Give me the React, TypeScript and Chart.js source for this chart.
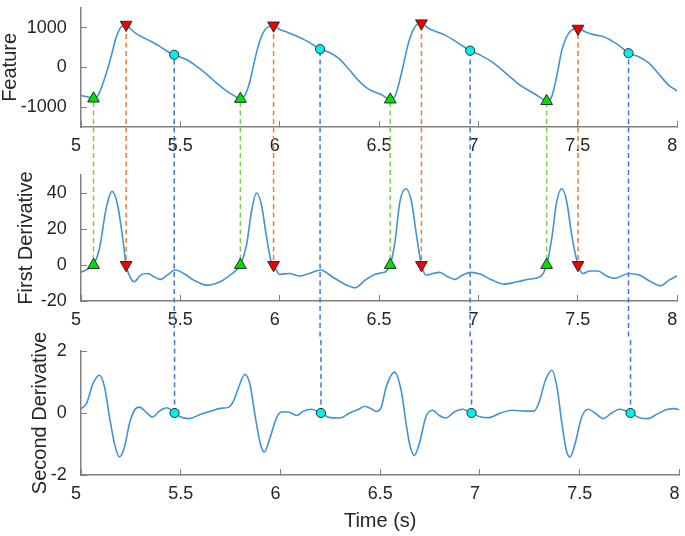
import React, { useEffect, useRef } from 'react';
import { Chart, registerables } from 'chart.js';

Chart.register(...registerables);

const FONT = "'Liberation Sans', Arial, Helvetica, sans-serif";
const TEXT = '#262626';
const AXIS = '#808080';
const CURVE = '#4393d3';

// ---------- x axis (shared) ----------
const xTicks = [5, 5.5, 6, 6.5, 7, 7.5, 8];
const xTickLabels = ['5  ', '5.5', '6  ', '6.5', '7  ', '7.5', '8  '];

// ---------- Feature ----------
const featureT = [
  5.0, 5.035, 5.063, 5.085, 5.118, 5.151, 5.176, 5.201, 5.227, 5.251, 5.276, 5.309, 5.351, 5.4, 5.442,
  5.469, 5.5, 5.542, 5.583, 5.633, 5.683, 5.733, 5.774, 5.802, 5.824, 5.849, 5.874, 5.899, 5.924, 5.949,
  5.969, 5.998, 6.04, 6.082, 6.123, 6.165, 6.203, 6.248, 6.298, 6.347, 6.397, 6.447, 6.513, 6.538, 6.556,
  6.583, 6.613, 6.646, 6.671, 6.696, 6.713, 6.746, 6.788, 6.829, 6.879, 6.92, 6.958, 7.012, 7.078, 7.145,
  7.211, 7.278, 7.319, 7.343, 7.369, 7.394, 7.419, 7.444, 7.469, 7.501, 7.544, 7.585, 7.627, 7.668, 7.71,
  7.755, 7.809, 7.859, 7.909, 7.958, 8.0,
];
const featureV = [
  -707, -745, -785, -707, -294, 262, 738, 1016, 1075, 960, 857, 762, 659, 516, 381,
  318, 262, 167, 24, -175, -397, -595, -722, -794, -707, -373, 183, 659, 937, 1040,
  1056, 960, 881, 794, 699, 580, 460, 381, 222, -40, -333, -548, -690, -770, -810,
  -690, -135, 580, 937, 1096, 1110, 993, 897, 818, 675, 540, 421, 302, 103, -175,
  -453, -651, -786, -850, -730, -214, 421, 778, 937, 975, 881, 818, 778, 675, 540,
  357, 262, 103, -175, -453, -595,
];
const featureTicks = [-1000, 0, 1000];
const featureTickLabels = ['-1000', '0', '1000'];

// ---------- First derivative ----------
const d1T = [
  5.0, 5.035, 5.063, 5.093, 5.127, 5.156, 5.184, 5.21, 5.227, 5.251, 5.268, 5.3, 5.337, 5.367, 5.4,
  5.434, 5.475, 5.517, 5.567, 5.633, 5.7, 5.75, 5.78, 5.802, 5.833, 5.858, 5.883, 5.908, 5.932, 5.957,
  5.969, 5.999, 6.049, 6.098, 6.148, 6.206, 6.264, 6.33, 6.38, 6.43, 6.48, 6.514, 6.535, 6.556, 6.58,
  6.605, 6.635, 6.663, 6.688, 6.713, 6.738, 6.771, 6.804, 6.846, 6.879, 6.92, 6.962, 7.012, 7.062, 7.128,
  7.195, 7.261, 7.311, 7.343, 7.369, 7.394, 7.419, 7.444, 7.469, 7.501, 7.527, 7.56, 7.601, 7.643, 7.685,
  7.756, 7.809, 7.867, 7.917, 7.958, 8.0,
];
const d1V = [
  -4.1, -2.2, 0, 9.3, 31.6, 40.9, 33.5, 14.9, 0, -7.4, -9.3, -5.6, -4.7, -6.5, -8,
  -5.6, -2.8, -4.7, -8.4, -11.2, -9.3, -5.6, -3, 0, 11.2, 29.8, 40, 33.5, 16.7, 1.9,
  0, -5.2, -4.7, -6.1, -4.7, -2.8, -6.5, -10.8, -12.6, -8.4, -5.2, -4.3, -3.5, 0, 13,
  35.3, 42.4, 35.3, 16.7, 0, -5.6, -4.7, -4.1, -6.5, -8, -5.6, -4.1, -5.2, -8, -10.6,
  -9.3, -7.8, -6.5, 0, 14.9, 35.3, 42.4, 35.3, 16.7, 0, -4.7, -3.3, -3.3, -6, -7.4,
  -4.7, -5.6, -9.3, -11.5, -8.4, -6,
];
const d1Ticks = [-20, 0, 20, 40];
const d1TickLabels = ['-20', '0', '20', '40'];

// ---------- Second derivative ----------
const d2T = [
  5.0, 5.027, 5.06, 5.093, 5.118, 5.143, 5.168, 5.193, 5.218, 5.243, 5.268, 5.293, 5.326, 5.359, 5.393,
  5.43, 5.469, 5.5, 5.542, 5.6, 5.65, 5.7, 5.741, 5.766, 5.791, 5.821, 5.846, 5.874, 5.899, 5.919,
  5.949, 5.982, 6.007, 6.04, 6.082, 6.115, 6.156, 6.203, 6.248, 6.298, 6.347, 6.397, 6.422, 6.455, 6.48,
  6.505, 6.53, 6.572, 6.605, 6.63, 6.647, 6.671, 6.696, 6.729, 6.763, 6.796, 6.829, 6.871, 6.912, 6.958,
  6.995, 7.045, 7.095, 7.161, 7.228, 7.27, 7.294, 7.328, 7.361, 7.386, 7.411, 7.433, 7.452, 7.477, 7.51,
  7.544, 7.577, 7.618, 7.66, 7.701, 7.755, 7.801, 7.842, 7.892, 7.942, 7.975, 8.0,
];
const d2V = [
  0.14, 0.3, 0.95, 1.22, 0.84, -0.13, -0.99, -1.42, -1.1, -0.34, 0.09, 0.19, 0.03, -0.13, 0.06,
  0.17, 0, -0.13, -0.18, -0.04, 0.06, 0.15, 0.19, 0.41, 0.84, 1.24, 0.95, -0.13, -0.99, -1.26,
  -0.77, -0.13, 0.03, 0.03, -0.08, 0.06, 0.12, 0, -0.15, -0.16, 0, 0.14, 0.22, 0.14, 0.05,
  0.18, 0.84, 1.32, 0.73, -0.34, -0.99, -1.37, -0.99, -0.13, 0.09, -0.08, -0.16, 0.03, 0.12, 0,
  -0.11, -0.15, -0.02, 0.09, 0.06, 0.06, 0.3, 1.05, 1.38, 0.84, -0.34, -1.2, -1.42, -0.99, -0.13,
  0.12, 0, -0.18, 0, 0.12, 0, -0.15, -0.18, -0.02, 0.12, 0.14, 0.11,
];
const d2Ticks = [-2, 0, 2];
const d2TickLabels = ['-2', '0', '2'];

// ---------- detected events ----------
const onsetT = [5.063, 5.802, 6.556, 7.343];
const onsetFeature = [-785, -794, -810, -850];
const onsetD1 = [0, 0, 0, 0];
const peakT = [5.227, 5.969, 6.713, 7.501];
const peakFeature = [1075, 1056, 1110, 975];
const peakD1 = [0, 0, 0, 0];
const notchT = [5.469, 6.203, 6.958, 7.755];
const notchFeature = [318, 460, 421, 357];
const notchD2 = [0, 0, 0, 0];

const GREEN_LINE = '#7fce45';
const ORANGE_LINE = '#f07a32';
const BLUE_LINE = '#4676d0';

// from/to: a value on this chart's y scale, or null = the chart's link boundary (startY / endY)
type Link = { t: number; from: number | null; to: number | null; color: string };
type Marker = { t: number[]; v: number[]; style: string; rot: number; r: number; color: string };

function pts(t: number[], v: number[]) {
  return t.map((x, i) => ({ x, y: v[i] }));
}

function linkPlugin(links: Link[], canvasTop: number, startY: number, endY: number) {
  return {
    id: 'links',
    beforeDatasetsDraw(chart: any) {
      const ctx = chart.ctx;
      const xs = chart.scales.x;
      const ys = chart.scales.y;
      ctx.save();
      ctx.lineWidth = 1.5;
      ctx.setLineDash([5, 3.5]);
      for (const l of links) {
        const x = xs.getPixelForValue(l.t);
        const y0 = l.from === null ? startY : ys.getPixelForValue(l.from);
        const y1 = l.to === null ? endY : ys.getPixelForValue(l.to);
        ctx.lineDashOffset = canvasTop + y0;
        ctx.strokeStyle = l.color;
        ctx.beginPath();
        ctx.moveTo(x, y0);
        ctx.lineTo(x, y1);
        ctx.stroke();
      }
      ctx.restore();
    },
  };
}

// y-axis label, drawn rotated and centred on the plot area (not squeezed to the axis height)
function yTitlePlugin(text: string, cx: number) {
  return {
    id: 'ytitle',
    afterDraw(chart: any) {
      const ctx = chart.ctx;
      const a = chart.chartArea;
      ctx.save();
      ctx.translate(cx, (a.top + a.bottom) / 2);
      ctx.rotate(-Math.PI / 2);
      ctx.font = `20px ${FONT}`;
      ctx.fillStyle = TEXT;
      ctx.textAlign = 'center';
      ctx.textBaseline = 'middle';
      ctx.fillText(text, 0, 0);
      ctx.restore();
    },
  };
}

type Spec = {
  curveT: number[];
  curveV: number[];
  yMin: number;
  yMax: number;
  yTicks: number[];
  yTickLabels: string[];
  yTitle: string;
  yTitleX: number;
  padTop: number;
  xAxisH: number;
  canvasTop: number;
  canvasH: number;
  linkStart: number;
  markers: Marker[];
  links: Link[];
  xTitle?: string;
};

function build(canvas: HTMLCanvasElement, s: Spec) {
  const markerSets = s.markers.map((m) => ({
    type: 'line',
    data: pts(m.t, m.v),
    showLine: false,
    pointStyle: m.style,
    pointRadius: m.r,
    pointRotation: m.rot,
    pointBackgroundColor: m.color,
    pointBorderColor: '#2b2b2b',
    pointBorderWidth: 1,
    borderColor: m.color,
    backgroundColor: m.color,
    clip: false,
  }));
  const curve = {
    type: 'line',
    data: pts(s.curveT, s.curveV),
    borderColor: CURVE,
    borderWidth: 1.6,
    pointRadius: 0,
    cubicInterpolationMode: 'monotone',
    fill: false,
  };
  const tickFont = { size: 18, family: FONT };
  const cfg: any = {
    type: 'line',
    data: { datasets: [...markerSets, curve] },
    options: {
      responsive: false,
      animation: false,
      devicePixelRatio: 1,
      events: [],
      layout: { padding: { top: s.padTop, left: 0, right: 2, bottom: 0 } },
      plugins: { legend: { display: false }, tooltip: { enabled: false } },
      scales: {
        x: {
          type: 'linear',
          min: 5,
          max: 8,
          afterBuildTicks: (sc: any) => {
            sc.ticks = xTicks.map((v) => ({ value: v }));
          },
          afterFit: (sc: any) => {
            sc.height = s.xAxisH;
            sc.paddingLeft = 0;
            sc.paddingRight = 0;
          },
          ticks: {
            autoSkip: false,
            maxRotation: 0,
            minRotation: 0,
            padding: 14.5,
            color: TEXT,
            font: tickFont,
            callback: (v: number) => xTickLabels[xTicks.indexOf(v)],
          },
          grid: { drawOnChartArea: false, drawTicks: true, tickLength: -6, color: AXIS, lineWidth: 1 },
          border: { display: true, color: AXIS, width: 1.5 },
          title: s.xTitle
            ? {
                display: true,
                text: s.xTitle,
                color: TEXT,
                font: { size: 20, family: FONT, lineHeight: 1.2 },
                padding: { top: 0, bottom: 3 },
              }
            : { display: false },
        },
        y: {
          type: 'linear',
          min: s.yMin,
          max: s.yMax,
          afterBuildTicks: (sc: any) => {
            sc.ticks = s.yTicks.map((v) => ({ value: v }));
          },
          afterFit: (sc: any) => {
            sc.width = 81;
            sc.paddingTop = 0;
            sc.paddingBottom = 0;
          },
          ticks: {
            padding: 20.3,
            color: TEXT,
            font: tickFont,
            callback: (v: number) => s.yTickLabels[s.yTicks.indexOf(v)],
          },
          grid: { drawOnChartArea: false, drawTicks: true, tickLength: -6, color: AXIS, lineWidth: 1 },
          border: { display: true, color: AXIS, width: 1.5 },
          title: { display: false },
        },
      },
    },
    plugins: [linkPlugin(s.links, s.canvasTop, s.linkStart, s.canvasH), yTitlePlugin(s.yTitle, s.yTitleX)],
  };
  return new Chart(canvas, cfg);
}

// canvas placement (page pixels); the third canvas overlaps the second so its long label fits
const TOP1 = 0;
const H1 = 165;
const TOP2 = 165;
const H2 = 175;
const TOP3 = 305;
const H3 = 231;

export default function App() {
  const r1 = useRef<HTMLCanvasElement>(null);
  const r2 = useRef<HTMLCanvasElement>(null);
  const r3 = useRef<HTMLCanvasElement>(null);

  useEffect(() => {
    const green = (v: number[]): Marker => ({ t: onsetT, v, style: 'triangle', rot: 0, r: 6.8, color: '#00e000' });
    const red = (v: number[]): Marker => ({ t: peakT, v, style: 'triangle', rot: 180, r: 6.8, color: '#f00000' });
    const cyan = (v: number[]): Marker => ({ t: notchT, v, style: 'circle', rot: 0, r: 4.6, color: '#00eeee' });

    const topLinks: Link[] = [
      ...onsetT.map((t, i) => ({ t, from: onsetFeature[i], to: null, color: GREEN_LINE })),
      ...peakT.map((t, i) => ({ t, from: peakFeature[i], to: null, color: ORANGE_LINE })),
      ...notchT.map((t, i) => ({ t, from: notchFeature[i], to: null, color: BLUE_LINE })),
    ];
    const midLinks: Link[] = [
      ...onsetT.map((t, i) => ({ t, from: null, to: onsetD1[i], color: GREEN_LINE })),
      ...peakT.map((t, i) => ({ t, from: null, to: peakD1[i], color: ORANGE_LINE })),
      ...notchT.map((t) => ({ t, from: null, to: null, color: BLUE_LINE })),
    ];
    const botLinks: Link[] = notchT.map((t, i) => ({ t, from: null, to: notchD2[i], color: BLUE_LINE }));

    const charts = [
      build(r1.current!, {
        curveT: featureT,
        curveV: featureV,
        yMin: -1500,
        yMax: 1500,
        yTicks: featureTicks,
        yTickLabels: featureTickLabels,
        yTitle: 'Feature',
        yTitleX: 10,
        padTop: 1,
        xAxisH: 38,
        canvasTop: TOP1,
        canvasH: H1,
        linkStart: 0,
        markers: [cyan(notchFeature), red(peakFeature), green(onsetFeature)],
        links: topLinks,
      }),
      build(r2.current!, {
        curveT: d1T,
        curveV: d1V,
        yMin: -20,
        yMax: 50,
        yTicks: d1Ticks,
        yTickLabels: d1TickLabels,
        yTitle: 'First Derivative',
        yTitleX: 26.5,
        padTop: 10,
        xAxisH: 39,
        canvasTop: TOP2,
        canvasH: H2,
        linkStart: 0,
        markers: [red(peakD1), green(onsetD1)],
        links: midLinks,
      }),
      build(r3.current!, {
        curveT: d2T,
        curveV: d2V,
        yMin: -2,
        yMax: 2,
        yTicks: d2Ticks,
        yTickLabels: d2TickLabels,
        yTitle: 'Second Derivative',
        yTitleX: 40,
        padTop: 351 - TOP3,
        xAxisH: 61,
        canvasTop: TOP3,
        canvasH: H3,
        linkStart: TOP2 + H2 - TOP3,
        markers: [cyan(notchD2)],
        links: botLinks,
        xTitle: 'Time (s)',
      }),
    ];
    return () => charts.forEach((c) => c.destroy());
  }, []);

  const cs = (top: number, h: number): React.CSSProperties => ({
    position: 'absolute',
    left: 0,
    top,
    width: 685,
    height: h,
    display: 'block',
  });

  return (
    <div style={{ position: 'absolute', left: 0, top: 0, width: 685, height: 536, background: '#fff' }}>
      <canvas ref={r1} width={685} height={H1} style={cs(TOP1, H1)} />
      <canvas ref={r2} width={685} height={H2} style={cs(TOP2, H2)} />
      <canvas ref={r3} width={685} height={H3} style={cs(TOP3, H3)} />
    </div>
  );
}
